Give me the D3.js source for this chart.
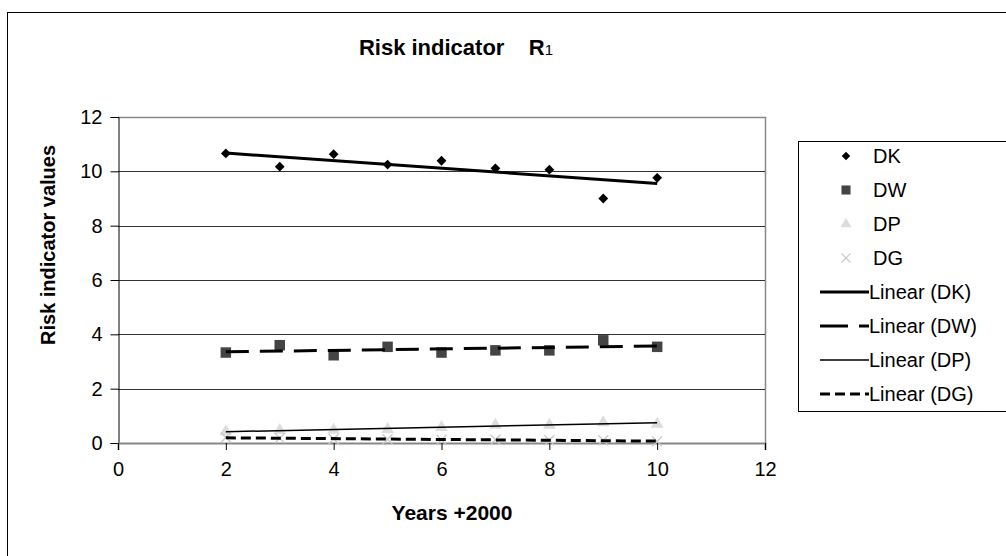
<!DOCTYPE html>
<html><head><meta charset="utf-8">
<script src="https://cdn.jsdelivr.net/npm/d3@7"></script>
<style>body{margin:0;background:#fff}svg{display:block;font-family:Arial,"Liberation Sans",sans-serif}</style>
</head><body><svg id="c" width="1006" height="556"></svg>
<script>
const years = [2,3,4,5,6,7,8,9,10];
const DK = [10.66,10.17,10.63,10.25,10.39,10.11,10.06,9.0,9.76];
const DW = [3.33,3.6,3.23,3.54,3.33,3.41,3.41,3.78,3.54];
const DP = [0.42,0.47,0.48,0.5,0.58,0.66,0.66,0.75,0.7];
const DG = [0.2,0.18,0.15,0.14,0.12,0.12,0.1,0.1,0.06];
const xTicks = [0,2,4,6,8,10,12];
const yTicks = [0,2,4,6,8,10,12];

const svg = d3.select("#c");
const L=118, R=765, T=117, B=443;
const x = d3.scaleLinear().domain([0,12]).range([L,R]);
const y = d3.scaleLinear().domain([0,12]).range([B,T]);

// outer border
svg.append("rect").attr("x",7.5).attr("y",12.5).attr("width",1010).attr("height",560)
  .attr("fill","none").attr("stroke","#000").attr("stroke-width",1);

// plot frame (top/right gray)
svg.append("path").attr("d",`M${L},${T+0.5}H${R+0.5}V${B}`).attr("fill","none").attr("stroke","#888").attr("stroke-width",1.5);
// gridlines
svg.append("g").selectAll("line").data(yTicks.filter(d=>d>0&&d<12)).join("line")
  .attr("x1",L).attr("x2",R).attr("y1",d=>Math.round(y(d))+0.5).attr("y2",d=>Math.round(y(d))+0.5)
  .attr("stroke","#333").attr("stroke-width",1);

// axes
const ya = svg.append("g").attr("transform",`translate(${L+0.5},0)`)
  .call(d3.axisLeft(y).tickValues(yTicks).tickSize(8).tickPadding(8).tickFormat(d3.format("d")));
ya.select(".domain").attr("stroke","#000");
ya.selectAll(".tick line").attr("stroke","#000");
ya.selectAll("text").attr("font-size",20).attr("fill","#000").attr("font-family","Arial, Liberation Sans, sans-serif");

const xa = svg.append("g").attr("transform",`translate(0,${B})`)
  .call(d3.axisBottom(x).tickValues(xTicks).tickSize(7).tickPadding(12).tickFormat(d3.format("d")));
xa.select(".domain").attr("stroke","#888").attr("stroke-width",2);
xa.selectAll(".tick line").attr("stroke","#000");
xa.selectAll("text").attr("font-size",20).attr("fill","#000").attr("font-family","Arial, Liberation Sans, sans-serif");

// regressions
function fit(vals){
  const n=years.length, mx=d3.mean(years), my=d3.mean(vals);
  let sxy=0,sxx=0; years.forEach((xv,i)=>{sxy+=(xv-mx)*(vals[i]-my);sxx+=(xv-mx)*(xv-mx);});
  const b=sxy/sxx, a=my-b*mx;
  return [[years[0],a+b*years[0]],[years[n-1],a+b*years[n-1]]];
}
const line = d3.line().x(d=>x(d[0])).y(d=>y(d[1]));

const series = [
  {name:"DK", vals:DK, sym:d3.symbolSquare, rot:45, size:48, fill:"#000", lw:3, dash:null},
  {name:"DW", vals:DW, sym:d3.symbolSquare, rot:0, size:110, fill:"#444", lw:3, dash:"23,11"},
  {name:"DP", vals:DP, sym:d3.symbolTriangle, rot:0, size:70, fill:"#ddd", lw:1.5, dash:null},
  {name:"DG", vals:DG, sym:null, rot:0, size:0, fill:"none", stroke:"#c8c8c8", lw:3, dash:"10,5"}
];
function xPath(cx,cy,r){return `M${cx-r},${cy-r}L${cx+r},${cy+r}M${cx-r},${cy+r}L${cx+r},${cy-r}`;}

// markers
series.forEach(s=>{
  const g=svg.append("g");
  const pts = years.map((yr,i)=>[yr,s.vals[i]]);
  if(!s.sym){
    g.selectAll("path").data(pts).join("path")
      .attr("d",d=>xPath(x(d[0]),y(d[1]),5))
      .attr("stroke",s.stroke).attr("stroke-width",1.3).attr("fill","none");
  } else {
    g.selectAll("path").data(pts).join("path")
      .attr("transform",d=>`translate(${x(d[0])},${y(d[1])}) rotate(${s.rot})`)
      .attr("d",d3.symbol(s.sym,s.size)).attr("fill",s.fill);
  }
});
// trend lines
series.forEach(s=>{
  svg.append("path").datum(fit(s.vals)).attr("d",line).attr("fill","none")
    .attr("stroke","#000").attr("stroke-width",s.lw).attr("stroke-dasharray",s.dash);
});

// titles
const title = svg.append("text").attr("x",456).attr("y",55).attr("text-anchor","middle")
  .attr("font-size",22).attr("font-weight","bold").attr("fill","#000");
title.append("tspan").text("Risk indicator\u00a0\u00a0\u00a0\u00a0R");
title.append("tspan").attr("font-size",15).attr("font-weight","normal").text("1");

svg.append("text").attr("x",452).attr("y",520).attr("text-anchor","middle")
  .attr("font-size",21).attr("font-weight","bold").text("Years +2000");
svg.append("text").attr("transform","translate(55,245) rotate(-90)").attr("text-anchor","middle")
  .attr("font-size",20).attr("font-weight","bold").text("Risk indicator values");

// legend
const lg = svg.append("g");
lg.append("rect").attr("x",798.5).attr("y",141.5).attr("width",220).attr("height",270)
  .attr("fill","#fff").attr("stroke","#000").attr("stroke-width",1);
const rowY = i => 156 + i*34;
series.forEach((s,i)=>{
  const cy=rowY(i), cx=846;
  if(!s.sym){
    lg.append("path").attr("d",xPath(cx,cy,4.5))
      .attr("stroke",s.stroke).attr("stroke-width",1.1).attr("fill","none");
  } else {
    lg.append("path").attr("transform",`translate(${cx},${cy}) rotate(${s.rot})`).attr("d",d3.symbol(s.sym,s.size*0.75)).attr("fill",s.fill);
  }
  lg.append("text").attr("x",873).attr("y",cy+7).attr("font-size",20).text(s.name);
});
series.forEach((s,i)=>{
  const cy=rowY(i+4);
  lg.append("line").attr("x1",820).attr("x2",869).attr("y1",cy).attr("y2",cy)
    .attr("stroke","#000").attr("stroke-width",s.lw).attr("stroke-dasharray",s.name==="DW"?"28,11":s.dash);
  lg.append("text").attr("x",869).attr("y",cy+7).attr("font-size",20).text(`Linear (${s.name})`);
});
</script></body></html>
